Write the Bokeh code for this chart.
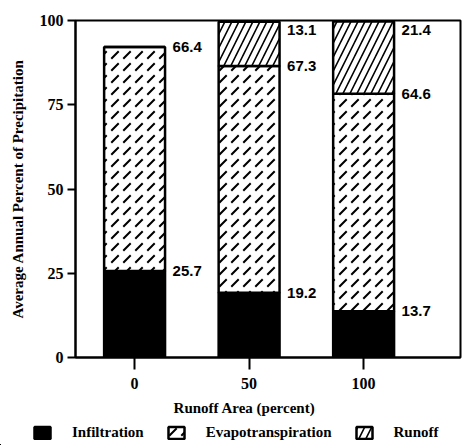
from bokeh.plotting import figure
from bokeh.models import ColumnDataSource, FixedTicker, Legend, LegendItem, Label, Range1d
from bokeh.layouts import column, row
from bokeh.core.properties import value
from bokeh.embed import file_html
from bokeh.resources import INLINE
import numpy as np

# data
runoff_area = [0, 50, 100]
infiltration = [25.7, 19.2, 13.7]
evapotranspiration = [66.4, 67.3, 64.6]
runoff = [0.0, 13.1, 21.4]
y_ticks = [0, 25, 50, 75, 100]
series_names = ["Infiltration", "Evapotranspiration", "Runoff"]

inf = np.array(infiltration)
evp = np.array(evapotranspiration)
run = np.array(runoff)
inf_top = inf
evp_top = inf + evp
run_top = evp_top + run

src = ColumnDataSource(dict(
    x=runoff_area, inf_bot=[0] * 3, inf_top=inf_top, evp_top=evp_top, run_top=run_top,
    inf_lbl=["%.1f" % v for v in infiltration],
    evp_lbl=["%.1f" % v for v in evapotranspiration],
))
run_idx = [i for i, v in enumerate(runoff) if v > 0]
run_src = ColumnDataSource(dict(
    x=[runoff_area[i] for i in run_idx],
    y=[run_top[i] for i in run_idx],
    lbl=["%.1f" % runoff[i] for i in run_idx],
))

SERIF = "Liberation Serif"
SANS = "Liberation Sans"

STYLES = [
    dict(fill_color="black", line_color="black", line_width=2.5),
    dict(fill_color="white", line_color="black", line_width=2.5,
         hatch_pattern="right_diagonal_dash", hatch_color="black",
         hatch_scale=12, hatch_weight=2),
    dict(fill_color="white", line_color="black", line_width=2.5,
         hatch_pattern="right_diagonal_line", hatch_color="black",
         hatch_scale=14, hatch_weight=1.6),
]
SEGMENTS = [("inf_bot", "inf_top"), ("inf_top", "evp_top"), ("evp_top", "run_top")]

p = figure(width=464, height=397, output_backend="svg", toolbar_location=None,
           x_range=Range1d(-25.8, 142.3), y_range=Range1d(0, 100),
           min_border_left=75, min_border_top=20, min_border_right=4, min_border_bottom=40)
p.xgrid.visible = False
p.ygrid.visible = False
p.outline_line_color = "black"
p.outline_line_width = 2
p.background_fill_color = "white"

bw = 26.6
for (b, t), st in zip(SEGMENTS, STYLES):
    p.vbar(x="x", bottom=b, top=t, width=bw, source=src, **st)

lbl_kw = dict(text_font=value(SANS), text_font_style="bold", text_font_size="15px",
              text_align="left", text_color="black", x_offset=38)
p.text(x="x", y="inf_top", text="inf_lbl", source=src, text_baseline="middle", **lbl_kw)
p.text(x="x", y="evp_top", text="evp_lbl", source=src, text_baseline="middle", **lbl_kw)
p.text(x="x", y="y", text="lbl", source=run_src, text_baseline="top", y_offset=3, **lbl_kw)

# axes
p.xaxis.ticker = FixedTicker(ticks=runoff_area)
p.yaxis.ticker = FixedTicker(ticks=y_ticks)
for ax in (p.xaxis[0], p.yaxis[0]):
    ax.axis_line_width = 2
    ax.axis_line_color = "black"
    ax.major_tick_line_width = 2
    ax.major_tick_line_color = "black"
    ax.minor_tick_line_color = None
    ax.major_tick_in = 0
    ax.major_label_text_font = SERIF
    ax.major_label_text_font_style = "bold"
    ax.major_label_text_font_size = "16px"
    ax.major_label_text_color = "black"
p.xaxis.major_tick_out = 12
p.xaxis.major_label_standoff = 8
p.yaxis.major_tick_out = 8
p.yaxis.major_label_standoff = 4
p.yaxis.axis_label = "Average Annual Percent of Precipitation"
p.yaxis.axis_label_text_font = SERIF
p.yaxis.axis_label_text_font_style = "bold"
p.yaxis.axis_label_text_font_size = "15px"
p.yaxis.axis_label_standoff = 11
p.yaxis.axis_label_text_color = "black"

# lower strip: x-axis title and legend (its own full-width frame)
q = figure(width=464, height=48, output_backend="svg", toolbar_location=None,
           x_range=Range1d(1000, 1464), y_range=Range1d(1000, 1048),
           x_axis_type=None, y_axis_type=None, min_border=0)
q.xgrid.visible = False
q.ygrid.visible = False
q.outline_line_color = None

xlab = Label(x=244, y=38, x_units="screen", y_units="screen",
             text="Runoff Area (percent)", text_align="center",
             text_baseline="middle", text_font=SERIF, text_font_style="bold",
             text_font_size="15px", text_color="black")
q.add_layout(xlab)

# legend swatches: same bars, outside this strip's visible range
items = []
for name, (b, t), st in zip(series_names, SEGMENTS, STYLES):
    r = q.vbar(x="x", bottom=b, top=t, width=1, source=src, **st)
    items.append(LegendItem(label=name, renderers=[r]))

legend = Legend(items=items, orientation="horizontal", location=(32, 4),
                glyph_width=20, glyph_height=15, label_standoff=20, spacing=22,
                padding=0, margin=0, border_line_color=None, background_fill_alpha=0,
                label_text_font=SERIF, label_text_font_style="bold",
                label_text_font_size="15px", label_text_color="black")
q.add_layout(legend)

open("out.html", "w").write(file_html(column(p, row(q), spacing=0), INLINE))
